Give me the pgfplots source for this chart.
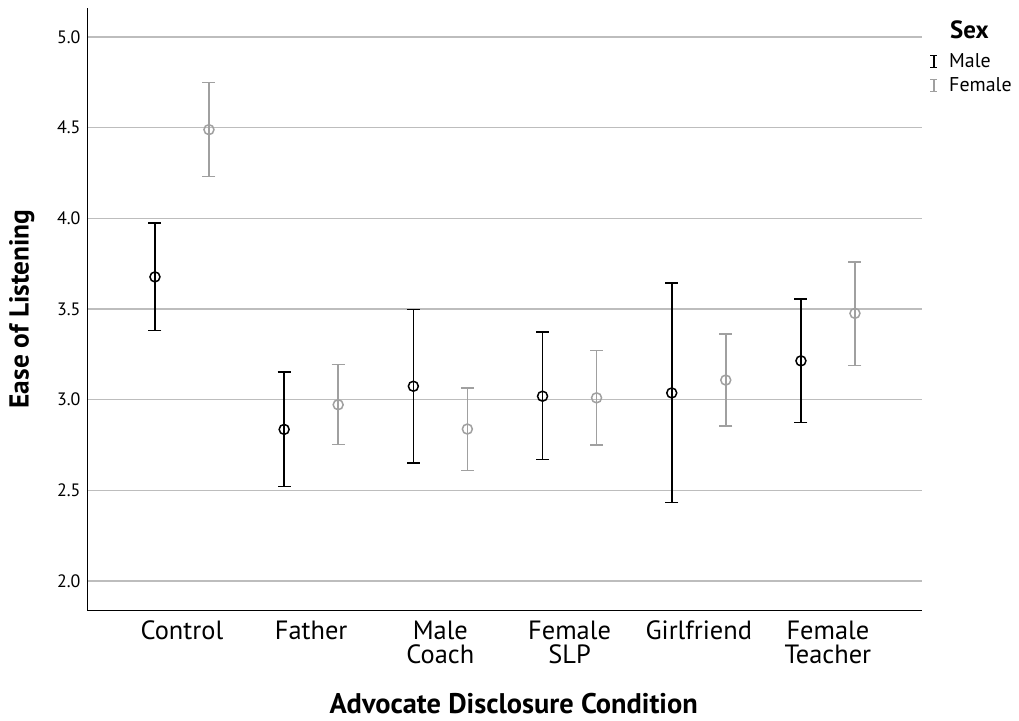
\documentclass[border=0pt]{standalone}
\usepackage{fontspec}
\setmainfont{PT Sans}
\usepackage{pgfplots}
\usepackage{pgfplotstable}
\pgfplotsset{compat=1.18}
\definecolor{fgray}{HTML}{A0A0A0}
\definecolor{gridgray}{HTML}{BDBDBD}

\pgfplotstableread{
x      y      ep     em
-0.209 3.677  0.298  0.295
0.791  2.836  0.316  0.314
1.791  3.074  0.424  0.422
2.791  3.019  0.353  0.349
3.791  3.037  0.605  0.604
4.791  3.214  0.341  0.339
}\male

\pgfplotstableread{
x      y      ep     em
0.209  4.489  0.261  0.259
1.209  2.972  0.221  0.219
2.209  2.838  0.227  0.229
3.209  3.010  0.262  0.261
4.209  3.108  0.254  0.253
5.209  3.476  0.283  0.287
}\female

\begin{document}
\begin{tikzpicture}
\useasboundingbox (0,0) rectangle (1019bp,721bp);
\begin{axis}[
  at={(87bp,111bp)}, anchor=south west,
  scale only axis, width=835bp, height=602bp,
  xmin=-0.735, xmax=5.728, ymin=1.84, ymax=5.16,
  axis lines*=left,
  axis line style={black, line width=1bp},
  major tick length=0pt,
  ytick={2,2.5,3,3.5,4,4.5,5},
  /pgf/number format/assume math mode=true,
  yticklabel style={/pgf/number format/fixed, /pgf/number format/fixed zerofill, /pgf/number format/precision=1,
    font=\fontsize{18}{20}\selectfont, xshift=-3bp},
  ymajorgrids,
  major grid style={gridgray, line width=1.3bp},
  xtick={0,1,2,3,4,5},
  xticklabels={Control, Father, Male\\Coach, Female\\SLP, Girlfriend, Female\\Teacher},
  xticklabel style={align=center, anchor=north, font=\fontsize{26.5}{24}\selectfont, yshift=-10bp, inner sep=1bp},
  xlabel={\textbf{Advocate Disclosure Condition}},
  xlabel style={at={(axis description cs:0.511,-0.155)}, anchor=center, font=\fontsize{28.5}{30}\selectfont},
  ylabel={\textbf{Ease of Listening}},
  ylabel style={at={(axis description cs:-0.078,0.5)}, anchor=center, font=\fontsize{27.5}{28}\selectfont},
  legend style={at={(axis description cs:1.009,0.928)}, anchor=north west, draw=none, fill=none,
    font=\fontsize{20}{21}\selectfont, inner sep=0pt, row sep=5bp,
    /tikz/every odd column/.append style={column sep=9bp}},
  legend cell align=left,
  legend image code/.code={\draw[#1, line width=1.5bp] (0bp,-6bp) -- (0bp,6bp) (-3.5bp,-6bp) -- (3.5bp,-6bp) (-3.5bp,6bp) -- (3.5bp,6bp);},
  clip=false,
]
\addplot[black, line width=1.5bp, only marks, mark=o, mark size=5bp, mark options={fill=white},
  error bars/.cd, y dir=both, y explicit,
  error bar style={black, line width=1.5bp},
  error mark options={rotate=90, mark size=6.5bp, line width=1.5bp, black}]
  table[x=x, y=y, y error plus=ep, y error minus=em] {\male};
\addlegendentry{Male}

\addplot[fgray, line width=1.5bp, only marks, mark=o, mark size=5bp, mark options={fill=white},
  error bars/.cd, y dir=both, y explicit,
  error bar style={fgray, line width=1.5bp},
  error mark options={rotate=90, mark size=6.5bp, line width=1.5bp, fgray}]
  table[x=x, y=y, y error plus=ep, y error minus=em] {\female};
\addlegendentry{Female}

\node[anchor=west, inner sep=0pt, font=\fontsize{25}{26}\selectfont\bfseries]
  at (axis description cs:1.0335,0.9635) {Sex};
\end{axis}
\end{tikzpicture}
\end{document}
